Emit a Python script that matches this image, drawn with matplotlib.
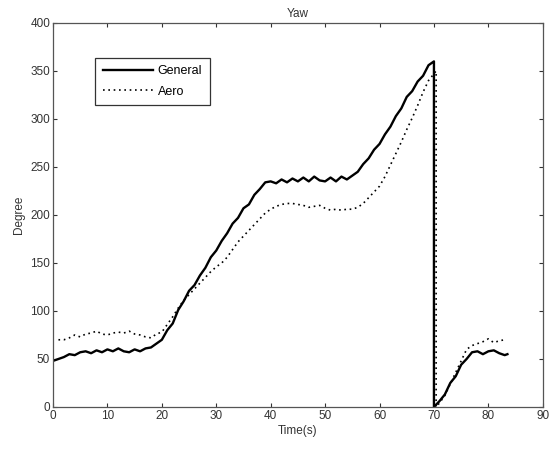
import matplotlib
matplotlib.use("Agg")
import matplotlib.pyplot as plt

plt.rcParams['font.family'] = ['Liberation Sans', 'DejaVu Sans']

# General (solid)
gen_t = list(range(0, 70)) + [70, 70, 70] + list(range(71, 84)) + [83.5]
gen_v = [48, 50, 52, 55, 54, 57, 58, 56, 59, 57, 60, 58, 61, 58, 57, 60, 58, 61, 62, 66,
         70, 80, 87, 101, 110, 121, 127, 137, 145, 156, 163, 173, 181, 191, 197, 207, 211, 221, 227, 234,
         235, 233, 237, 234, 238, 235, 239, 235, 240, 236, 235, 239, 235, 240, 237, 241, 245, 253, 259, 268,
         274, 284, 292, 303, 311, 323, 329, 339, 345, 356,
         360, 180, 0,
         6, 13, 25, 32, 44, 50, 57, 58, 55, 58, 59, 56, 54, 55]

# Aero (dotted)
aero_t = list(range(1, 70)) + [70.4, 70.4] + list(range(71, 84))
aero_v = [70, 70, 72, 75, 73, 76, 77, 79, 76, 75, 77, 78, 77, 79, 76, 75, 73, 72, 76,
          78, 86, 94, 103, 111, 117, 123, 129, 135, 141, 146, 150, 156, 164, 172, 178, 184, 190, 196, 202,
          206, 209, 211, 212, 212, 211, 210, 208, 209, 210, 207, 205, 206, 205, 206, 206, 208, 212, 218, 224,
          230, 240, 252, 264, 276, 289, 301, 314, 328, 340,
          350, 0,
          4, 12, 24, 36, 48, 60, 64, 66, 68, 71, 67, 69, 70]

xticks = list(range(0, 91, 10))
yticks = list(range(0, 401, 50))

fig = plt.figure(figsize=(5.55, 4.76), dpi=100)
ax = fig.add_axes([0.0955, 0.145, 0.8825, 0.8067])

ax.plot(gen_t, gen_v, color='black', linewidth=1.7, label='General')
ax.plot(aero_t, aero_v, color='black', linewidth=1.2, linestyle=(0, (1, 2.2)), label='Aero')

ax.set_xlim(0, 90)
ax.set_ylim(0, 400)
ax.set_xticks(xticks)
ax.set_yticks(yticks)
ax.tick_params(direction='in', top=True, right=True, labelsize=8.5,
               colors='#333333', length=3, width=0.8, pad=2)
for s in ax.spines.values():
    s.set_color('#555555')
    s.set_linewidth(0.9)

ax.set_title('Yaw', fontsize=8.5, color='#333333', pad=4)
ax.set_xlabel('Time(s)', fontsize=8.5, color='#333333', labelpad=2)
ax.set_ylabel('Degree', fontsize=8.5, color='#333333', labelpad=4)

leg = ax.legend(loc='upper left', bbox_to_anchor=(0.086, 0.909), fontsize=9,
                fancybox=False, framealpha=1, edgecolor='#333333',
                handlelength=4.0, borderpad=0.6, labelspacing=0.65, handletextpad=0.4,
                borderaxespad=0)
leg.get_frame().set_linewidth(0.9)

fig.savefig('out.png', dpi=100)
